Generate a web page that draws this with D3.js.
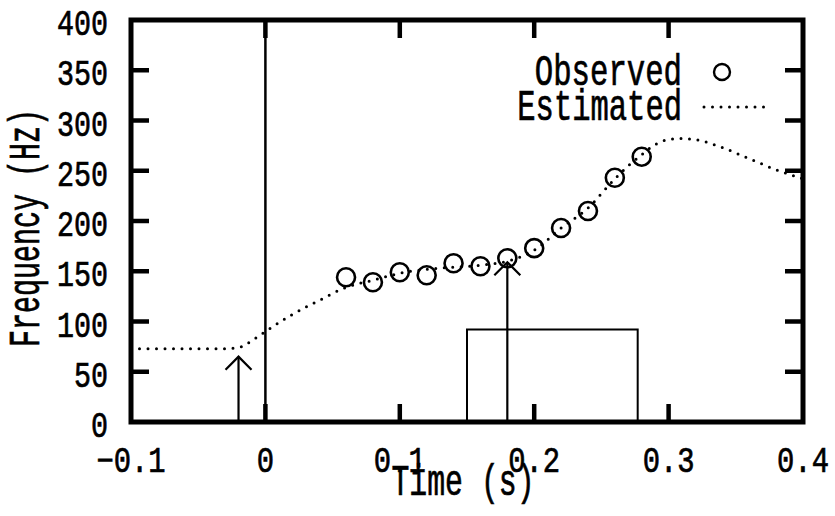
<!DOCTYPE html>
<html>
<head>
    <script src="https://d3js.org/d3.v7.min.js"></script>
    <title>Frequency vs Time</title>
    <style>
        body { margin: 0; background: #fff; }
        text { font-family: "Liberation Mono", "DejaVu Sans Mono", monospace; fill: #000; stroke: #000; stroke-width: 0.7px; }
    </style>
</head>
<body>
    <div id="chart"></div>
    <script>
        // observed points
        var obsTime = [0.06, 0.08, 0.10, 0.12, 0.14, 0.16, 0.18, 0.20, 0.22, 0.24, 0.26, 0.28];
        var obsFreq = [144, 139, 149, 146, 158, 155, 163, 173, 193, 210, 243, 264];

        // estimated contour (dotted)
        var estTime = [-0.10, -0.08, -0.06, -0.04, -0.03, -0.02, -0.01, 0.00, 0.02, 0.04, 0.06, 0.08, 0.10, 0.12,
                       0.14, 0.16, 0.18, 0.20, 0.22, 0.24, 0.26, 0.27, 0.28, 0.29, 0.30, 0.31, 0.32, 0.34, 0.36, 0.38, 0.40];
        var estFreq = [73, 73, 73, 73, 73, 74, 81, 90, 107, 121, 134, 141, 148, 152,
                       154, 156, 160, 171, 193, 213, 242, 255, 266, 276, 281, 282, 281, 273, 262, 251, 242];

        // annotations: up arrows and the open box
        var arrowTime = [-0.02, 0.18];
        var arrowTip = [65, 159];
        var boxTime = [0.15, 0.277];
        var boxTop = 92;

        var xTicks = [-0.1, 0, 0.1, 0.2, 0.3, 0.4];
        var xTickLabels = ["\u22120.1", "0", "0.1", "0.2", "0.3", "0.4"];
        var yTicks = [0, 50, 100, 150, 200, 250, 300, 350, 400];

        var width = 835, height = 516;
        var svg = d3.select('#chart').append('svg')
            .attr('width', width)
            .attr('height', height);

        var x = d3.scaleLinear().domain([-0.1, 0.4]).range([131, 803]);
        var y = d3.scaleLinear().domain([0, 400]).range([422, 20]);

        // text helper: tall narrow type, width forced per character
        function label(g, str, size, charW) {
            var t = g.append('text')
                .attr('font-size', size)
                .text(str);
            t.attr('textLength', str.length * charW).attr('lengthAdjust', 'spacingAndGlyphs');
            return t;
        }

        // vertical line at t = 0
        svg.append('line')
            .attr('x1', x(0)).attr('x2', x(0))
            .attr('y1', y(400)).attr('y2', y(0))
            .attr('stroke', '#000').attr('stroke-width', 2.5);

        // frame
        svg.append('rect')
            .attr('x', x(-0.1)).attr('y', y(400))
            .attr('width', x(0.4) - x(-0.1)).attr('height', y(0) - y(400))
            .attr('fill', 'none').attr('stroke', '#000').attr('stroke-width', 5);

        // inner ticks
        var tickLen = 18;
        xTicks.slice(1, -1).forEach(function(t) {
            svg.append('line').attr('x1', x(t)).attr('x2', x(t))
                .attr('y1', y(0)).attr('y2', y(0) - tickLen)
                .attr('stroke', '#000').attr('stroke-width', 4.5);
            svg.append('line').attr('x1', x(t)).attr('x2', x(t))
                .attr('y1', y(400)).attr('y2', y(400) + tickLen)
                .attr('stroke', '#000').attr('stroke-width', 4.5);
        });
        yTicks.slice(1, -1).forEach(function(v) {
            svg.append('line').attr('x1', x(-0.1)).attr('x2', x(-0.1) + tickLen)
                .attr('y1', y(v)).attr('y2', y(v))
                .attr('stroke', '#000').attr('stroke-width', 4.5);
            svg.append('line').attr('x1', x(0.4)).attr('x2', x(0.4) - tickLen)
                .attr('y1', y(v)).attr('y2', y(v))
                .attr('stroke', '#000').attr('stroke-width', 4.5);
        });

        // tick labels
        yTicks.forEach(function(v) {
            label(svg, String(v), 36, 17)
                .attr('x', 108).attr('y', y(v) + 15)
                .attr('text-anchor', 'end');
        });
        xTicks.forEach(function(t, i) {
            label(svg, xTickLabels[i], 36, 17.3)
                .attr('x', x(t)).attr('y', 472)
                .attr('text-anchor', 'middle');
        });

        // axis titles
        label(svg, 'Time (s)', 44, 17.9)
            .attr('x', 463).attr('y', 495)
            .attr('text-anchor', 'middle');
        label(svg, 'Frequency (Hz)', 44, 17)
            .attr('transform', 'translate(39,228) rotate(-90)')
            .attr('text-anchor', 'middle');

        // estimated contour
        var estData = estTime.map(function(t, i) { return [t, estFreq[i]]; });
        var line = d3.line()
            .x(function(d) { return x(d[0]); })
            .y(function(d) { return y(d[1]); })
            .curve(d3.curveMonotoneX);
        svg.append('path')
            .datum(estData)
            .attr('d', line)
            .attr('fill', 'none')
            .attr('stroke', '#000')
            .attr('stroke-width', 3)
            .attr('stroke-linecap', 'round')
            .attr('stroke-dasharray', '0,8.5');

        // observed circles
        svg.selectAll('.obs')
            .data(obsTime)
            .enter().append('circle')
            .attr('class', 'obs')
            .attr('cx', function(d) { return x(d); })
            .attr('cy', function(d, i) { return y(obsFreq[i]); })
            .attr('r', 9)
            .attr('fill', 'none')
            .attr('stroke', '#000')
            .attr('stroke-width', 2.6);

        // up arrows
        arrowTime.forEach(function(t, i) {
            var ax = x(t), tip = y(arrowTip[i]);
            svg.append('line').attr('x1', ax).attr('x2', ax)
                .attr('y1', y(0)).attr('y2', tip)
                .attr('stroke', '#000').attr('stroke-width', 2.2);
            svg.append('path')
                .attr('d', 'M' + (ax - 13) + ',' + (tip + 13) + 'L' + ax + ',' + tip + 'L' + (ax + 13) + ',' + (tip + 13))
                .attr('fill', 'none').attr('stroke', '#000').attr('stroke-width', 2.2);
        });

        // open-bottom box
        svg.append('path')
            .attr('d', 'M' + x(boxTime[0]) + ',' + y(0) + 'V' + y(boxTop) + 'H' + x(boxTime[1]) + 'V' + y(0))
            .attr('fill', 'none').attr('stroke', '#000').attr('stroke-width', 2);

        // legend
        label(svg, 'Observed', 44, 18.4)
            .attr('x', 682).attr('y', 85).attr('text-anchor', 'end');
        svg.append('circle')
            .attr('cx', 722).attr('cy', 72).attr('r', 8)
            .attr('fill', 'none').attr('stroke', '#000').attr('stroke-width', 2.4);
        label(svg, 'Estimated', 44, 18.3)
            .attr('x', 682).attr('y', 120).attr('text-anchor', 'end');
        svg.append('line')
            .attr('x1', 704).attr('x2', 764).attr('y1', 107).attr('y2', 107)
            .attr('stroke', '#000').attr('stroke-width', 3)
            .attr('stroke-linecap', 'round').attr('stroke-dasharray', '0,8.5');
    </script>
</body>
</html>
